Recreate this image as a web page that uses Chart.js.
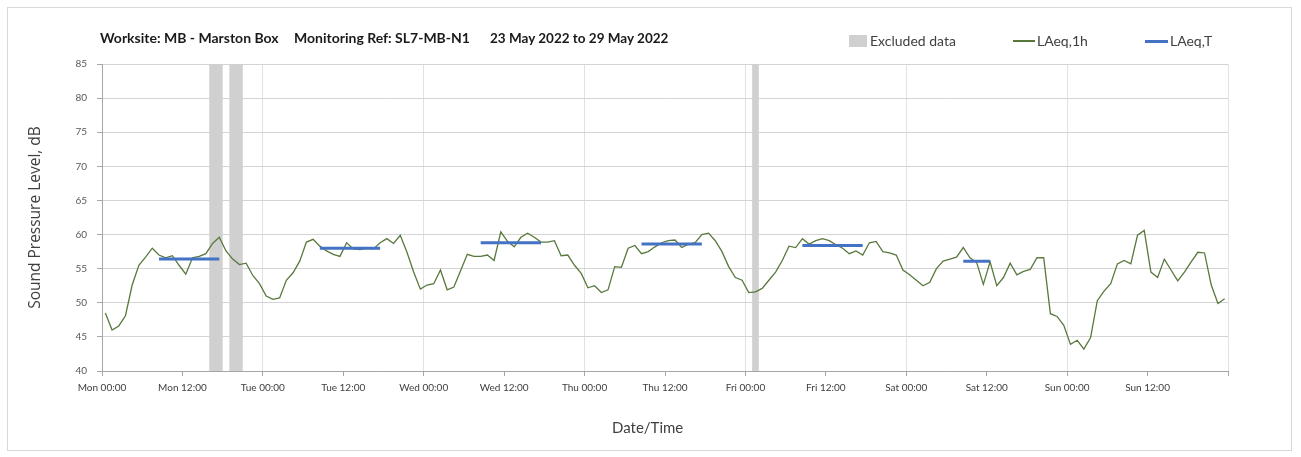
<!DOCTYPE html>
<html>
<head>
<meta charset="utf-8">
<script src="https://cdn.jsdelivr.net/npm/chart.js@4.4.1/dist/chart.umd.min.js"></script>
<style>
  html, body { margin: 0; padding: 0; background: #ffffff; }
  #wrap { position: relative; width: 1301px; height: 457px; overflow: hidden; background: #fff; }
  #frame { position: absolute; left: 7px; top: 7px; width: 1285px; height: 444px; border: 1px solid #d9d9d9; box-sizing: border-box; }
  canvas { position: absolute; left: 0; top: 0; }
  .ttl { position: absolute; top: 30px; line-height: 16px; font-family: Lato, "Open Sans", sans-serif; font-weight: bold; font-size: 14px; color: #1a1a1a; white-space: nowrap; }
  .lgt { position: absolute; top: 33px; line-height: 16px; font-family: Lato, "Open Sans", sans-serif; font-size: 14px; color: #404040; white-space: nowrap; }
  .xt { position: absolute; top: 418px; line-height: 18px; font-family: Lato, "Open Sans", sans-serif; font-size: 15px; color: #404040; white-space: nowrap; }
  .lgs { position: absolute; }
</style>
</head>
<body>
<div id="wrap">
  <div id="frame"></div>
  <canvas id="c" width="1301" height="457"></canvas>
  <div id="overlay"></div>
</div>
<script>
// ---------- DATA ----------
const titleParts = ["Worksite: MB - Marston Box", "Monitoring Ref: SL7-MB-N1", "23 May 2022 to 29 May 2022"];
const xTitle = "Date/Time";
const yTitle = "Sound Pressure Level, dB";
const tickLabels = ["Mon 00:00", "Mon 12:00", "Tue 00:00", "Tue 12:00", "Wed 00:00", "Wed 12:00", "Thu 00:00",
                    "Thu 12:00", "Fri 00:00", "Fri 12:00", "Sat 00:00", "Sat 12:00", "Sun 00:00", "Sun 12:00"];
const seriesNames = ["Excluded data", "LAeq,1h", "LAeq,T"];

// Hourly LAeq,1h values, hour 0 = Mon 00:00
const laeq1h = [
  48.5,46.0,46.6,48.1,52.6,55.5,56.7,58.0,57.0,56.6,56.9,55.5,54.2,56.6,56.8,57.2,58.7,59.6,57.6,56.4,55.6,55.8,54.0,52.8,
  51.0,50.5,50.7,53.3,54.4,56.1,58.9,59.3,58.3,57.6,57.1,56.8,58.8,57.9,57.8,58.0,57.9,58.8,59.4,58.7,59.9,57.4,54.5,52.0,
  52.6,52.8,54.8,51.9,52.3,54.7,57.1,56.8,56.8,57.0,56.2,60.4,59.0,58.2,59.6,60.2,59.6,58.9,58.9,59.1,56.9,57.0,55.5,54.3,
  52.2,52.5,51.5,51.9,55.3,55.2,58.0,58.4,57.2,57.5,58.2,58.8,59.1,59.2,58.1,58.6,58.8,60.0,60.2,59.1,57.5,55.3,53.7,53.3,
  51.5,51.6,52.1,53.3,54.5,56.2,58.3,58.1,59.4,58.6,59.1,59.4,59.1,58.5,58.0,57.2,57.6,57.0,58.8,59.0,57.5,57.3,57.0,54.8,
  54.1,53.3,52.5,53.0,55.0,56.1,56.4,56.7,58.1,56.6,55.9,52.7,56.0,52.5,53.7,55.8,54.1,54.6,54.9,56.6,56.6,48.4,48.0,46.7,
  43.9,44.5,43.2,44.9,50.3,51.7,52.8,55.7,56.2,55.7,59.9,60.6,54.5,53.7,56.4,54.8,53.2,54.5,56.0,57.4,57.3,52.6,49.9,50.6
];

// LAeq,T working periods (hour of week, start inclusive / end exclusive)
const periodStart = [8, 32, 56, 80, 104, 128];
const periodEnd   = [18, 42, 66, 90, 114, 133];
const laeqT       = [56.4, 58.0, 58.8, 58.6, 58.4, 56.1];

// Excluded data intervals (hour of week)
const excludedStart = [16, 19, 97];
const excludedEnd   = [18, 21, 98];

// ---------- STYLE ----------
const COL_GREEN = '#58783c';
const COL_BLUE = '#4472c4';
const COL_EXCL = '#d0d0d0';
const FONT = 'Lato, "Open Sans", sans-serif';

// ---------- BUILD ----------
const lineData = laeq1h.map((v, i) => ({ x: i + 0.5, y: v }));
const tData = laeq1h.map((_, i) => {
  let val = null;
  for (let k = 0; k < laeqT.length; k++) {
    if (i >= periodStart[k] && i < periodEnd[k]) val = laeqT[k];
  }
  return { x: i + 0.5, y: val };
});

// overlay title, legend and x-axis title (real text)
const ov = document.getElementById('overlay');
const titleLeft = [100, 294, 490];
const titleSize = [14, 14, 13.5];
titleParts.forEach((t, i) => {
  const d = document.createElement('div');
  d.className = 'ttl'; d.style.left = titleLeft[i] + 'px'; d.style.fontSize = titleSize[i] + 'px';
  d.textContent = t; ov.appendChild(d);
});
const legendDefs = [
  { sx: 849, sy: 35, sw: 18, sh: 12, col: COL_EXCL, tx: 870 },
  { sx: 1013, sy: 40, sw: 22, sh: 1.6, col: COL_GREEN, tx: 1037 },
  { sx: 1145, sy: 39.5, sw: 23, sh: 3, col: COL_BLUE, tx: 1170 }
];
legendDefs.forEach((l, i) => {
  const s = document.createElement('div');
  s.className = 'lgs';
  Object.assign(s.style, { left: l.sx + 'px', top: l.sy + 'px', width: l.sw + 'px', height: l.sh + 'px', background: l.col });
  ov.appendChild(s);
  const t = document.createElement('div');
  t.className = 'lgt'; t.style.left = l.tx + 'px'; t.textContent = seriesNames[i]; ov.appendChild(t);
});
const xt = document.createElement('div');
xt.className = 'xt'; xt.style.left = '612px'; xt.textContent = xTitle; ov.appendChild(xt);

const bandsPlugin = {
  id: 'excludedBands',
  beforeDatasetsDraw(chart) {
    const { ctx, chartArea, scales } = chart;
    ctx.save();
    ctx.fillStyle = COL_EXCL;
    for (let i = 0; i < excludedStart.length; i++) {
      const x1 = scales.x.getPixelForValue(excludedStart[i]);
      const x2 = scales.x.getPixelForValue(excludedEnd[i]);
      ctx.fillRect(x1, chartArea.top, x2 - x1, chartArea.bottom - chartArea.top);
    }
    ctx.restore();
  }
};

Chart.defaults.font.family = FONT;

new Chart(document.getElementById('c'), {
  type: 'line',
  data: {
    datasets: [
      { label: seriesNames[2], data: tData, borderColor: COL_BLUE, borderWidth: 3, pointRadius: 0, spanGaps: false, order: 0, borderCapStyle: 'butt' },
      { label: seriesNames[1], data: lineData, borderColor: COL_GREEN, borderWidth: 1.3, pointRadius: 0, tension: 0, order: 1 }
    ]
  },
  options: {
    responsive: false,
    animation: false,
    devicePixelRatio: 1,
    layout: { padding: { top: 64, right: 73, bottom: 0, left: 0 } },
    plugins: { legend: { display: false }, title: { display: false }, tooltip: { enabled: false } },
    scales: {
      x: {
        type: 'linear', min: 0, max: 168,
        afterFit: s => { s.height = 86; },
        ticks: {
          stepSize: 12, autoSkip: false, maxRotation: 0, minRotation: 0, padding: 6,
          color: '#404040', font: { size: 10 },
          callback: v => (tickLabels[v / 12] !== undefined ? tickLabels[v / 12] : '')
        },
        grid: {
          color: c => (c.tick && c.tick.value % 24 === 0 ? '#e2e2e2' : 'rgba(0,0,0,0)'),
          tickColor: '#a6a6a6', tickLength: 5
        },
        border: { color: '#a6a6a6' },
        title: { display: false }
      },
      y: {
        min: 40, max: 85,
        afterFit: s => { s.width = 102; },
        ticks: { stepSize: 5, padding: 10, color: '#595959', font: { size: 10 } },
        grid: { color: '#d4d4d4', tickColor: '#a6a6a6', tickLength: 5 },
        border: { color: '#a6a6a6' },
        title: { display: true, text: yTitle, color: '#404040', font: { family: '"Open Sans", Lato, sans-serif', size: 15.5 }, padding: { top: 26, bottom: 0 } }
      }
    }
  },
  plugins: [bandsPlugin]
});
</script>
</body>
</html>
